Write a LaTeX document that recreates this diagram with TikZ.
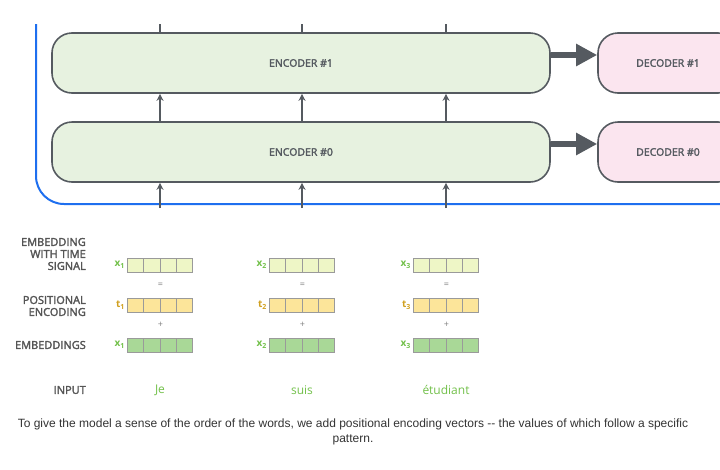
\documentclass[tikz,border=0pt]{standalone}
\usepackage{fontspec}
\setmainfont{Open Sans}
\newfontfamily\semifont{Open Sans}[FakeBold=2.5]
\newfontfamily\capfont{Liberation Sans}
\usetikzlibrary{arrows.meta,positioning,calc}
\definecolor{encfill}{HTML}{E7F2E0}
\definecolor{decfill}{HTML}{FBE5EF}
\definecolor{boxline}{HTML}{555A60}
\definecolor{frameblue}{HTML}{1E6FEF}
\definecolor{sigfill}{HTML}{EEF6C6}
\definecolor{posfill}{HTML}{FCE59A}
\definecolor{embfill}{HTML}{A9D897}
\definecolor{cellline}{HTML}{9A9A9A}
\definecolor{xgreen}{HTML}{72C04A}
\definecolor{tgold}{HTML}{D0A020}
\definecolor{labelgray}{HTML}{555555}
\definecolor{captext}{HTML}{333333}
\tikzset{
    enc/.style={rectangle, rounded corners=20pt, draw=boxline, line width=1.6pt, fill=encfill, minimum width=498pt, minimum height=60pt, font=\semifont\fontsize{10.5}{12}\selectfont, text=boxline},
    dec/.style={enc, fill=decfill, minimum width=140pt},
    pil/.style={-{Stealth[length=7pt,width=7pt]}, line width=1.4pt, draw=boxline},
    fat/.style={-{Triangle[length=21pt,width=21pt]}, line width=6pt, draw=boxline},
    cell/.style={rectangle, draw=cellline, line width=0.8pt, minimum width=16.25pt, minimum height=14pt, inner sep=0pt},
    rowlabel/.style={anchor=east, align=right, inner sep=0pt, font=\semifont\fontsize{11}{12}\selectfont, text=labelgray},
    veclabel/.style={anchor=east, inner sep=2pt, font=\bfseries\fontsize{10}{12}\selectfont},
    op/.style={font=\fontsize{9}{9}\selectfont, text=gray},
    word/.style={font=\fontsize{12}{14}\selectfont, text=xgreen}
}
\begin{document}
\begin{tikzpicture}[x=1pt, y=-1pt]
    \useasboundingbox (0,0) rectangle (720,469);
    \clip (0,0) rectangle (720,469);
    % encoder / decoder stack
    \draw[frameblue, line width=2pt, rounded corners=28pt] (36,24) |- (730,204);
    \node[enc] (enc1) at (301,63) {ENCODER \#1};
    \node[enc] (enc0) at (301,152) {ENCODER \#0};
    \node[dec] (dec1) at (668,63) {DECODER \#1};
    \node[dec] (dec0) at (668,152) {DECODER \#0};
    \draw[fat] (enc1.east |- 0,55) -- (dec1.west |- 0,55);
    \draw[fat] (enc0.east |- 0,144) -- (dec0.west |- 0,144);
    % row labels
    \node[rowlabel] (lsig) at (86,254) {EMBEDDING\\WITH TIME\\SIGNAL};
    \node[rowlabel] (lpos) at (86,306) {POSITIONAL\\ENCODING};
    \node[rowlabel] (lemb) at (86,345) {EMBEDDINGS};
    \node[rowlabel] (linp) at (86,390) {INPUT};
    % one column per word
    \foreach \i/\cx/\w in {1/160/Je, 2/302/suis, 3/446/étudiant} {
        \foreach \r/\cy/\f in {sig/265/sigfill, pos/305/posfill, emb/345/embfill} {
            \foreach \k in {1,...,4}
                \node[cell, fill=\f] (\r\i-\k) at ({\cx-40.625+16.25*\k}, \cy) {};
        }
        \node[veclabel, text=xgreen] at (sig\i-1.west) {x\textsubscript{\i}};
        \node[veclabel, text=tgold] at (pos\i-1.west) {t\textsubscript{\i}};
        \node[veclabel, text=xgreen] at (emb\i-1.west) {x\textsubscript{\i}};
        \node[op] at ($(sig\i-2.south east)!.5!(pos\i-2.north east)$) {=};
        \node[op] at ($(pos\i-2.south east)!.5!(emb\i-2.north east)$) {+};
        \node[word] (word\i) at (\cx,390) {\w};
        % arrows through the stack
        \coordinate (top\i) at (\cx,24);
        \coordinate (in\i) at (\cx,208);
        \draw[boxline, line width=1.4pt] (enc1.north -| top\i) -- (top\i);
        \draw[pil] (enc0.north -| top\i) -- (enc1.south -| top\i);
        \draw[pil] (in\i) -- (enc0.south -| in\i);
    }
    % caption
    \node[font=\capfont\fontsize{12}{15}\selectfont, text=captext, align=center] (cap) at (353,432)
      {To give the model a sense of the order of the words, we add positional encoding vectors -{}- the values of which follow a specific\\pattern.};
\end{tikzpicture}
\end{document}
